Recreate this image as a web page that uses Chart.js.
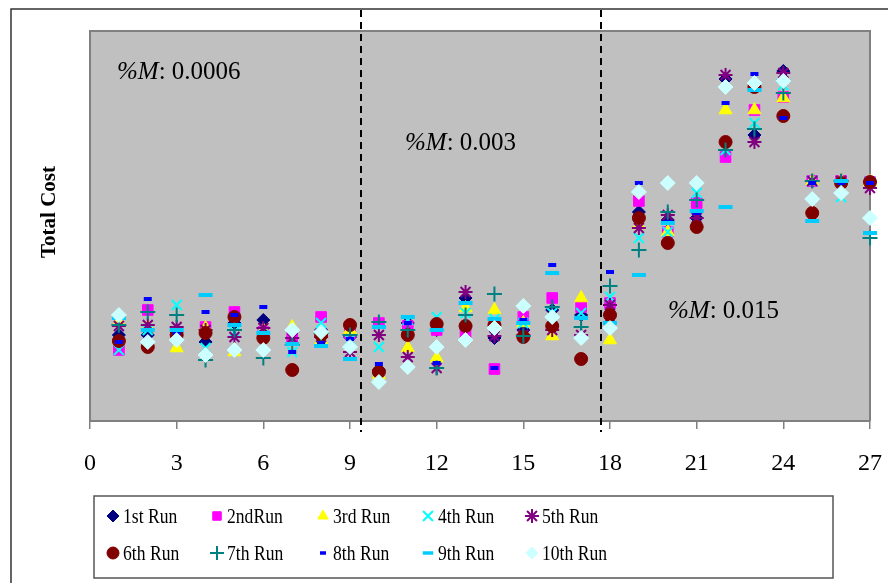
<!DOCTYPE html>
<html>
<head>
<meta charset="utf-8">
<title>Total Cost by run</title>
<script src="https://cdn.jsdelivr.net/npm/chart.js@4.4.0/dist/chart.umd.min.js"></script>
<style>
  body { margin: 0; background: #fff; }
  canvas { display: block; }
</style>
</head>
<body>
<canvas id="myCanvas" width="888" height="583"></canvas>
<script>
// x = generation (1..27), y = total cost (the axis has no numbers)
const generations = [1,2,3,4,5,6,7,8,9,10,11,12,13,14,15,16,17,18,19,20,21,22,23,24,25,26,27];

const run1  = [86,86,89,79,98,101,83,91,84,51,98,91,123,83,91,111,106,98,209,201,203,342,286,350,240,240,239];
const run2  = [71,111,89,94,109,89,84,104,88,98,95,91,88,52,104,123,114,118,220,189,218,264,311,324,240,240,239];
const run3  = [99,94,73,93,69,91,94,81,91,46,73,63,113,111,98,85,123,81,196,189,196,311,311,323,240,240,239];
const run4  = [71,91,116,73,89,86,69,98,81,74,101,104,108,102,98,108,108,124,183,189,228,271,298,336,240,224,239];
const run5  = [95,96,94,91,84,93,83,84,69,86,64,53,129,85,86,91,86,116,193,206,203,346,279,348,240,240,233];
const run6  = [80,74,86,88,104,83,51,86,96,49,86,97,95,96,84,95,62,106,203,178,194,279,334,305,208,238,239];
const run7  = [96,109,106,61,91,63,76,88,86,99,91,53,106,127,85,114,94,135,171,209,221,271,292,328,240,240,183];
const run8  = [79,122,88,109,106,114,69,78,82,57,98,58,118,53,101,156,103,149,238,199,208,318,347,303,238,238,238];
const run9  = [103,91,91,126,96,88,77,75,62,94,104,91,118,102,98,148,103,98,146,198,210,214,331,340,200,240,188];
const run10 = [106,79,81,66,71,71,91,89,74,39,54,74,81,93,115,104,83,93,229,238,238,334,338,340,222,228,203];

const runLabels = ["1st Run","2ndRun","3rd Run","4th Run","5th Run","6th Run","7th Run","8th Run","9th Run","10th Run"];
const xTicks = [0,3,6,9,12,15,18,21,24,27];

// where the mutation rate changes, and the rate of each phase
const mutationBreaks = [9.38, 17.68];
const mutationRates = ["0.0006", "0.003", "0.015"];

const runs = [run1, run2, run3, run4, run5, run6, run7, run8, run9, run10];

// excel-ish markers
const markers = [
  { style: 'rectRot',  color: '#000080', r: 6.5, bw: 1 },
  { style: 'rect',     color: '#FF00FF', r: 7.5, bw: 1 },
  { style: 'triangle', color: '#FFFF00', r: 7.5, bw: 1 },
  { style: 'crossRot', color: '#00FFFF', r: 7,   bw: 2 },
  { style: 'star',     color: '#800080', r: 7,   bw: 2 },
  { style: 'circle',   color: '#800000', r: 6.5, bw: 1 },
  { style: 'cross',    color: '#008080', r: 7.5, bw: 2 },
  { style: 'line',     color: '#0000FF', r: 4,   bw: 4 },
  { style: 'line',     color: '#00CCFF', r: 7,   bw: 4 },
  { style: 'rectRot',  color: '#CCFFFF', r: 7.5, bw: 1 }
];

const datasets = runs.map((vals, i) => ({
  label: runLabels[i],
  data: vals.map((v, j) => ({ x: generations[j], y: v })),
  pointStyle: markers[i].style,
  pointRadius: markers[i].r,
  pointHoverRadius: markers[i].r,
  pointBorderWidth: markers[i].bw,
  backgroundColor: markers[i].color,
  borderColor: markers[i].color,
  showLine: false,
  clip: false,
  order: 10 - i   // first run drawn first, 10th on top
}));

const serif = "'Liberation Serif', 'Times New Roman', serif";

function drawMarker(ctx, m, x, y, r) {
  ctx.fillStyle = m.color;
  ctx.strokeStyle = m.color;
  ctx.lineWidth = m.bw;
  Chart.helpers.drawPoint(ctx, { pointStyle: m.style, radius: r, borderWidth: m.bw, rotation: 0 }, x, y);
}

function note(ctx, x, y, rate) {
  ctx.textBaseline = 'middle';
  ctx.textAlign = 'left';
  ctx.fillStyle = '#000';
  ctx.font = "italic 25px " + serif;
  ctx.fillText('%M', x, y);
  let w = ctx.measureText('%M').width;
  ctx.font = "25px " + serif;
  ctx.fillText(': ' + rate, x + w, y);
}

const decor = {
  id: 'decor',
  beforeDraw(chart) {
    const { ctx, chartArea: a } = chart;
    ctx.save();
    ctx.fillStyle = '#fff';
    ctx.fillRect(0, 0, chart.width, chart.height);
    ctx.strokeStyle = '#333';
    ctx.lineWidth = 1.5;
    ctx.strokeRect(11, 9, 1000, 1000);
    ctx.fillStyle = '#C0C0C0';
    ctx.fillRect(a.left, a.top, a.right - a.left, a.bottom - a.top);
    ctx.restore();
  },
  beforeDatasetsDraw(chart) {
    const { ctx, chartArea: a } = chart;
    ctx.save();
    ctx.strokeStyle = '#808080';
    ctx.lineWidth = 2;
    ctx.beginPath();
    ctx.moveTo(a.left, a.bottom);
    ctx.lineTo(a.left, a.top);
    ctx.lineTo(a.right, a.top);
    ctx.lineTo(a.right, a.bottom);
    ctx.stroke();
    ctx.restore();
  },
  afterDatasetsDraw(chart) {
    const { ctx } = chart;
    const xs = chart.scales.x;
    ctx.save();
    ctx.strokeStyle = '#000';
    ctx.lineWidth = 2;
    ctx.setLineDash([7, 5]);
    mutationBreaks.forEach(b => {
      const px = Math.round(xs.getPixelForValue(b));
      ctx.beginPath();
      ctx.moveTo(px, 10);
      ctx.lineTo(px, 432);
      ctx.stroke();
    });
    ctx.setLineDash([]);
    note(ctx, 117, 72, mutationRates[0]);
    note(ctx, 405, 143, mutationRates[1]);
    note(ctx, 668, 311, mutationRates[2]);
    ctx.restore();
  },
  afterDraw(chart) {
    const { ctx } = chart;
    ctx.save();
    // y title
    ctx.translate(50, 212);
    ctx.rotate(-Math.PI / 2);
    ctx.font = "bold 21px " + serif;
    ctx.fillStyle = '#000';
    ctx.textAlign = 'center';
    ctx.textBaseline = 'middle';
    ctx.fillText('Total Cost', 0, 0);
    ctx.restore();

    // legend box
    ctx.save();
    ctx.strokeStyle = '#555';
    ctx.lineWidth = 1.5;
    ctx.strokeRect(94, 496, 739, 82);
    const cols = [113, 217, 323, 428, 532];
    const textX = [123, 227, 333, 438, 542];
    const rows = [516, 553];
    for (let i = 0; i < 10; i++) {
      const c = i % 5, r = Math.floor(i / 5);
      const m = markers[i];
      let rr = m.style === 'line' ? m.r * 0.75 : (m.bw === 2 ? 7 : 6);
      drawMarker(ctx, { ...m, bw: m.style === 'line' ? 3.5 : m.bw }, cols[c], rows[r], rr);
      ctx.save();
      ctx.translate(textX[c], rows[r]);
      ctx.scale(0.8, 1);
      ctx.font = "22px " + serif;
      ctx.fillStyle = '#000';
      ctx.textAlign = 'left';
      ctx.textBaseline = 'middle';
      ctx.fillText(runLabels[i], 0, 1);
      ctx.restore();
    }
    ctx.restore();
  }
};

new Chart(document.getElementById('myCanvas'), {
  type: 'scatter',
  data: { datasets },
  options: {
    responsive: false,
    animation: false,
    events: [],
    layout: { padding: { left: 90, right: 18, top: 31, bottom: 0 } },
    plugins: {
      legend: { display: false },
      tooltip: { enabled: false }
    },
    scales: {
      x: {
        type: 'linear',
        min: 0,
        max: 27,
        afterBuildTicks: (s) => { s.ticks = xTicks.map(v => ({ value: v })); },
        afterFit: (s) => { s.height = 162; s.paddingLeft = 0; s.paddingRight = 0; },
        ticks: {
          color: '#000',
          font: { family: serif, size: 24 },
          padding: 20,
          maxRotation: 0
        },
        grid: { drawOnChartArea: false, drawTicks: true, tickLength: 8, color: '#808080', lineWidth: 1.5 },
        border: { display: true, color: '#808080', width: 2 }
      },
      y: {
        display: false,
        min: 0,
        max: 390
      }
    }
  },
  plugins: [decor]
});
</script>
</body>
</html>
